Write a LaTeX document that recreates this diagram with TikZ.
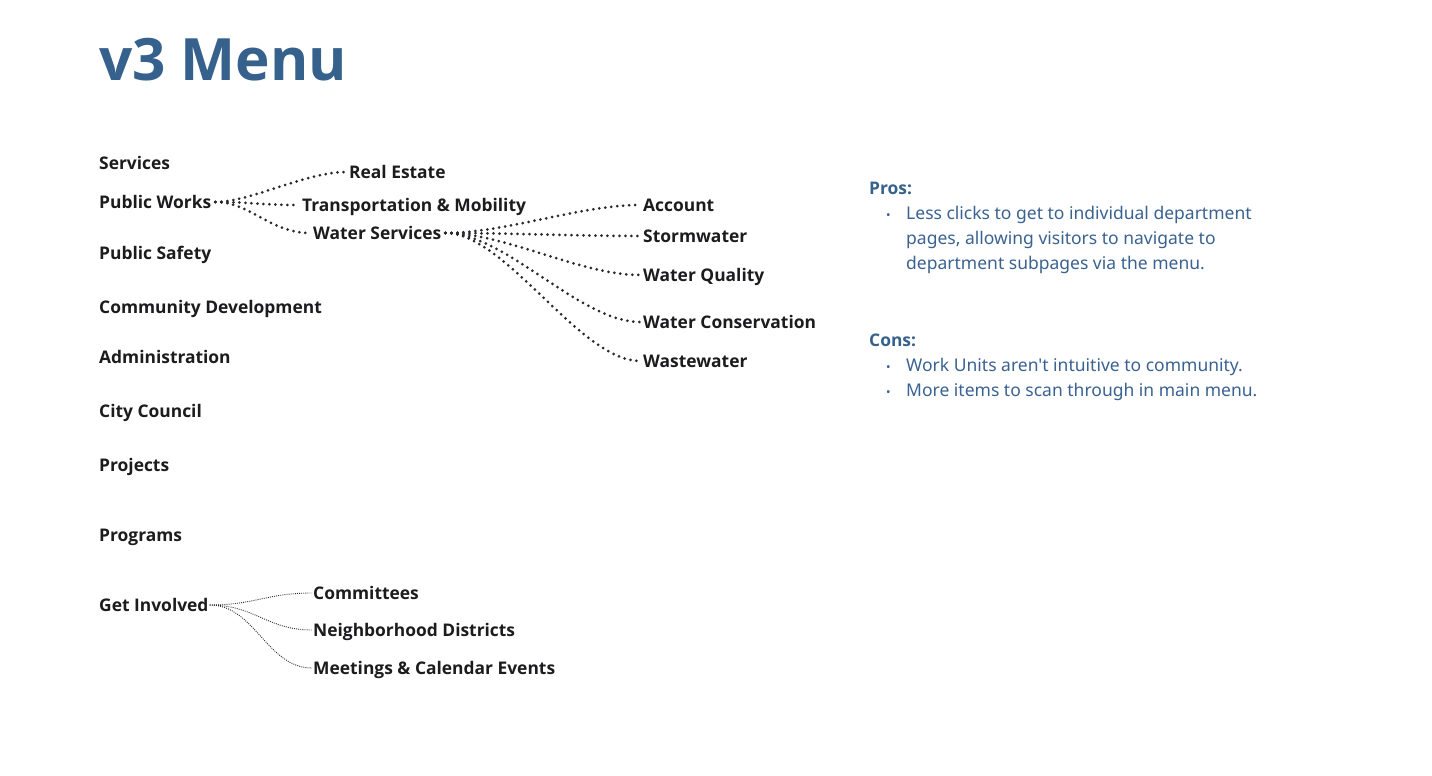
\documentclass[tikz,border=0pt]{standalone}
\usepackage{fontspec}
\setmainfont{Noto Sans}
\newfontfamily\bsans{Open Sans}
\newfontfamily\plainsans{Noto Sans}
\definecolor{titleblue}{RGB}{54,97,140}
\definecolor{bodyblue}{RGB}{58,98,145}
\definecolor{ink}{RGB}{28,28,30}
\definecolor{dotink}{RGB}{40,40,45}
\begin{document}
\begin{tikzpicture}[x=1pt,y=-1pt,
  menu/.style={anchor=base west, inner sep=0pt, font=\fontsize{17.4}{20}\selectfont\bsans\bfseries, text=ink},
  titletext/.style={anchor=base west, inner sep=0pt, font=\fontsize{58.4}{70}\selectfont\bsans\bfseries, text=titleblue},
  head/.style={anchor=base west, inner sep=0pt, font=\fontsize{17.4}{20}\selectfont\bsans\bfseries, text=titleblue},
  body/.style={anchor=base west, inner sep=0pt, font=\fontsize{17.5}{20}\selectfont\plainsans, text=bodyblue},
  bul/.style={anchor=base west, inner sep=0pt, font=\fontsize{12}{14}\selectfont\plainsans, text=bodyblue},
  link/.style={draw=dotink, line width=3pt, line cap=round, dash pattern=on 0pt off 6pt},
  thinlink/.style={draw=dotink, line width=0.9pt, dash pattern=on 0.9pt off 1.2pt},
]
\useasboundingbox[fill=white] (0,0) rectangle (1432,776);

\node[titletext] (title) at (99,81) {v3 Menu};

% main menu
\node[menu] (services) at (99,169) {Services};
\node[menu] (pw) at (99,208) {Public Works};
\node[menu] (ps) at (99,259) {Public Safety};
\node[menu] (cd) at (99,313) {Community Development};
\node[menu] (adm) at (99,363) {Administration};
\node[menu] (cc) at (99,417) {City Council};
\node[menu] (proj) at (99,471) {Projects};
\node[menu] (prog) at (99,541) {Programs};
\node[menu] (gi) at (99,611) {Get Involved};

% public works children
\node[menu] (re) at (349,178) {Real Estate};
\node[menu] (tm) at (302,211) {Transportation \& Mobility};
\node[menu] (ws) at (313,239) {Water Services};

% water services children
\node[menu] (acc) at (643,211) {Account};
\node[menu] (sw) at (643,242) {Stormwater};
\node[menu] (wq) at (643,281) {Water Quality};
\node[menu] (wc) at (643,328) {Water Conservation};
\node[menu] (ww) at (643,367) {Wastewater};

% get involved children
\node[menu] (com) at (313,599) {Committees};
\node[menu] (nd) at (313,636) {Neighborhood Districts};
\node[menu] (mce) at (313,674) {Meetings \& Calendar Events};

% connectors: public works
\foreach \c in {re,tm,ws}{
  \draw[link] ([xshift=4pt,yshift=6pt]pw.base east) .. controls +(35,0) and +(-40,0) .. ([xshift=-3pt,yshift=6pt]\c.base west);
}
% connectors: water services
\foreach \c in {acc,sw,wq,wc,ww}{
  \draw[link] ([xshift=4pt,yshift=6pt]ws.base east) .. controls +(60,0) and +(-60,0) .. ([xshift=-3pt,yshift=6pt]\c.base west);
}
% connectors: get involved
\foreach \c in {com,nd,mce}{
  \draw[thinlink] ([xshift=1pt,yshift=6pt]gi.base east) .. controls +(45,0) and +(-45,0) .. ([xshift=-1pt,yshift=6pt]\c.base west);
}

% pros / cons
\node[head] (pros) at (869,194) {Pros:};
\node[bul] (b1) at (886,219) {•};
\node[body] (p1) at (906,219) {Less clicks to get to individual department};
\node[body] (p2) at (906,244) {pages, allowing visitors to navigate to};
\node[body] (p3) at (906,269) {department subpages via the menu.};

\node[head] (cons) at (869,346) {Cons:};
\node[bul] (b2) at (886,371) {•};
\node[body] (c1) at (906,371) {Work Units aren't intuitive to community.};
\node[bul] (b3) at (886,396) {•};
\node[body] (c2) at (906,396) {More items to scan through in main menu.};
\end{tikzpicture}
\end{document}
